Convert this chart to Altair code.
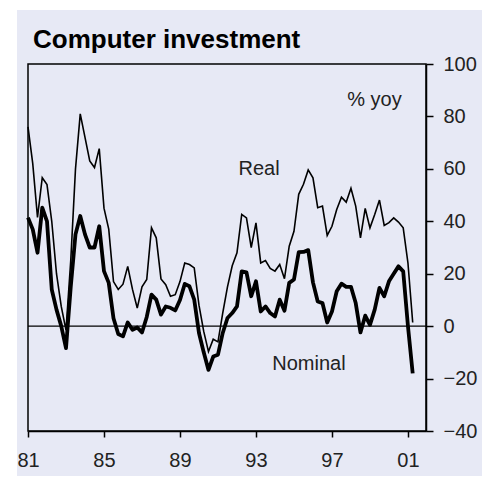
import altair as alt
import pandas as pd

# ---- data (quarterly, % yoy, 1981Q1 .. 2001Q2) ----
real = [76, 62, 41.5, 56.6, 54, 40, 20, 7.5, -1.5, 25, 60, 81, 72, 63, 60.5, 67.7,
        45, 37, 17, 14, 16, 22.8, 14, 6.9, 15, 17.8, 37.5, 33.7, 18, 15.8, 11.4, 12,
        17, 24.1, 23.5, 22.2, 8, -2, -9.7, -5, -6, 5, 15, 23, 28, 42.6, 41.3, 30,
        39.4, 24.1, 25, 22, 21, 23.5, 18.1, 30.5, 36.2, 50.3, 54.1, 59.6, 56.6, 45.2,
        45.8, 34.6, 38.1, 44.5, 49.2, 47.3, 52.6, 45.8, 33.7, 44.9, 37.5, 42.6, 48.1,
        38.4, 39.5, 41.3, 39.7, 37.5, 24.1, 1.4]
nominal = [41.4, 36.9, 28, 45.2, 40, 14, 6.3, 0, -8.4, 15, 35, 42, 35, 30, 30, 38.1,
           21, 16.5, 3, -3, -3.9, 1.4, -1.4, -0.5, -2.4, 3.5, 12, 10.1, 4.4, 7.5, 7, 6,
           10, 16.1, 15.2, 10.1, -2.6, -10, -16.7, -11.6, -10.9, -2.6, 3.1, 5, 7.5, 20.9,
           20.5, 11.4, 17.1, 5.6, 7.5, 5, 3.7, 10.1, 5.9, 16.5, 17.8, 28.2, 28.3, 29,
           16.7, 9.4, 8.8, 1.4, 5.6, 13.3, 16.2, 15, 15, 8.8, -2.4, 4, 0.5, 6.3, 14.6,
           11.4, 17.1, 20, 22.8, 20.9, 0, -18]
start_year = 1981
x_ticks = [1981, 1985, 1989, 1993, 1997, 2001]
y_ticks = [-40, -20, 0, 20, 40, 60, 80, 100]
title_text = "Computer investment"
ann_text = ["Real", "Nominal", "% yoy"]
ann_x = [1993.16, 1995.79, 1999.24]
ann_y = [57.6, -16.7, 84.0]

# ---- tables ----
t = [start_year + i / 4 for i in range(len(real))]
df = pd.DataFrame({
    "t": t + t,
    "value": real + nominal,
    "series": ["Real"] * len(real) + ["Nominal"] * len(nominal),
})
ann = pd.DataFrame({"text": ann_text, "x": ann_x, "y": ann_y})

LAV = "#E7E9F5"
FONT = "Liberation Sans"
W, H = 398, 367

xscale = alt.Scale(domain=[1981, 2001.95], nice=False, zero=False)
yscale = alt.Scale(domain=[-40, 100], nice=False, zero=False)

xaxis = alt.Axis(values=x_ticks, title=None, grid=False, tickSize=6, zindex=2,
                 labelExpr="(datum.value % 100 < 10 ? '0' : '') + (datum.value % 100)",
                 labelFlush=False, labelPadding=13, labelFontSize=20)
yaxis = alt.Axis(orient="right", values=y_ticks, title=None, grid=False, tickSize=7,
                 zindex=2, labelFlush=False, labelPadding=10, labelFontSize=20)

bg = alt.Chart(alt.Data(values=[{}])).mark_rect(color=LAV).encode(
    x=alt.value(-11), x2=alt.value(W + 56), y=alt.value(-54), y2=alt.value(H + 45))

frame = alt.Chart(alt.Data(values=[{}])).mark_rect(
    fill=None, stroke="black", strokeWidth=1.5).encode(
    x=alt.value(0), x2=alt.value(W), y=alt.value(0), y2=alt.value(H))

zero = alt.Chart(alt.Data(values=[{"v": 0}])).mark_rule(
    color="black", strokeWidth=1.3).encode(y=alt.Y("v:Q", scale=yscale, axis=yaxis))

real_line = alt.Chart(df).transform_filter(alt.datum.series == "Real").mark_line(
    color="black", strokeWidth=1.6).encode(
    x=alt.X("t:Q", scale=xscale, axis=xaxis),
    y=alt.Y("value:Q", scale=yscale, axis=yaxis))

nom_line = alt.Chart(df).transform_filter(alt.datum.series == "Nominal").mark_line(
    color="black", strokeWidth=3.8, strokeJoin="round").encode(
    x=alt.X("t:Q", scale=xscale, axis=xaxis),
    y=alt.Y("value:Q", scale=yscale, axis=yaxis))

labels = alt.Chart(ann).mark_text(align="center", baseline="alphabetic", fontSize=20,
                                  font=FONT, color="#222").encode(
    x=alt.X("x:Q", scale=xscale), y=alt.Y("y:Q", scale=yscale), text="text:N")

title = alt.Chart(alt.Data(values=[{"t": title_text}])).mark_text(
    align="left", baseline="alphabetic", fontSize=26, fontWeight="bold",
    font=FONT, color="black").encode(x=alt.value(5), y=alt.value(-16), text="t:N")

chart = alt.layer(bg, frame, zero, real_line, nom_line, labels, title).properties(
    width=W, height=H,
    autosize=alt.AutoSizeParams(type="none"),
    padding={"left": 20, "top": 56, "right": 56, "bottom": 45},
).configure(background="white").configure_view(
    stroke=None
).configure_axis(
    domainColor="black", domainWidth=1.5, tickColor="black", tickWidth=1.5,
    labelFont=FONT, labelColor="#222",
)

chart.save("out.html", embed_options={"renderer": "svg", "actions": False})
